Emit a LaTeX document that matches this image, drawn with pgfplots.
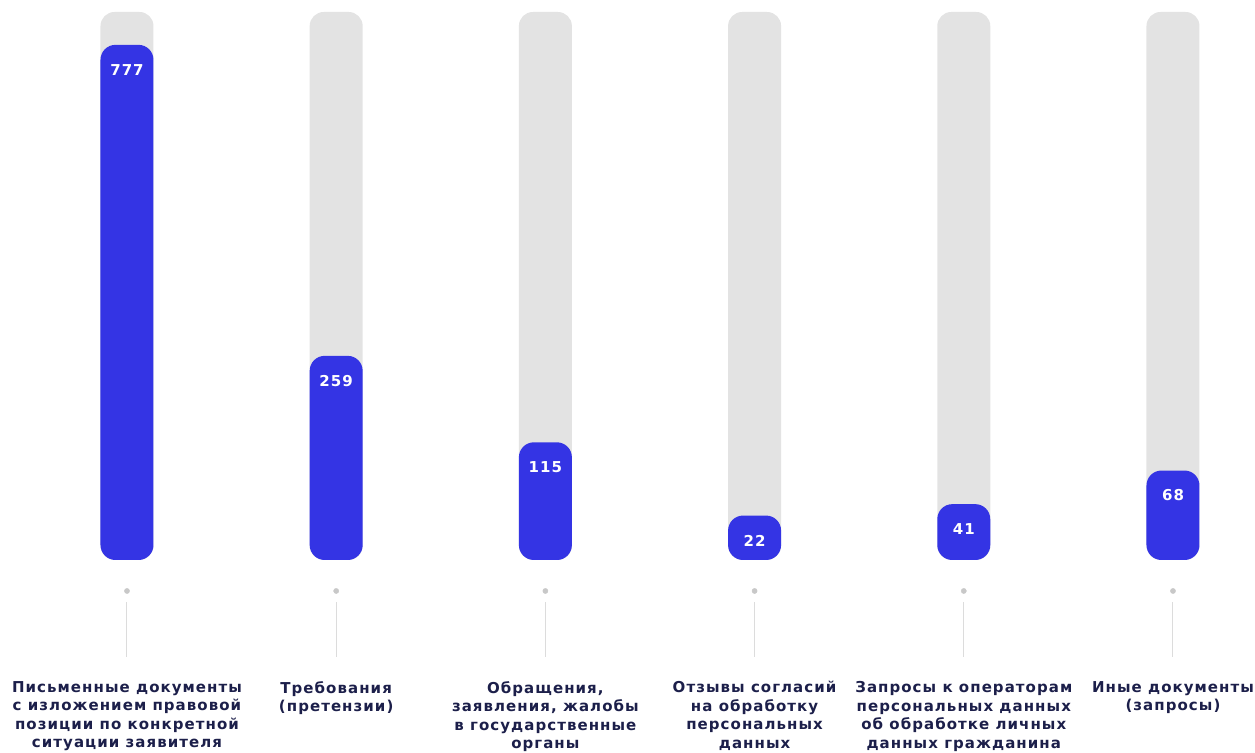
\documentclass[border=0pt]{standalone}
\usepackage{fontspec}
\setmainfont{DejaVu Sans}
\newfontfamily\lblfont{DejaVu Sans}[LetterSpace=7]
\usepackage{pgfplots}
\pgfplotsset{compat=1.18}
\definecolor{barblue}{HTML}{3434E4}
\definecolor{track}{HTML}{E3E3E3}
\definecolor{navy}{HTML}{1C1F4A}
\definecolor{stem}{HTML}{DCDCDC}
\definecolor{dotc}{HTML}{C8C8C8}

\begin{document}
\begin{tikzpicture}
\useasboundingbox (0,0) rectangle (1255pt,752pt);
\begin{axis}[
  at={(0,0)}, anchor=south west,
  width=1255pt, height=752pt,
  scale only axis,
  hide axis,
  clip=false,
  xmin=-0.607, xmax=5.392,
  ymin=-319.8, ymax=932.7,
  bar width=53pt,
  bar shift=0pt,
  /pgf/number format/assume math mode=true,
]
% grey tracks
\addplot[ybar, fill=track, draw=none, rounded corners=14pt, forget plot]
  coordinates {(0,912.7) (1,912.7) (2,912.7) (3,912.7) (4,912.7) (5,912.7)};
% values
\addplot[ybar, fill=barblue, draw=none, rounded corners=15pt,
  y filter/.expression={y<50 ? y+52 : y+81},
  point meta=rawy,
  nodes near coords,
  nodes near coords style={text=white, font=\lblfont\bfseries\fontsize{15}{15}\selectfont,
    anchor=center, yshift=-25pt, rounded corners=0pt}]
  coordinates {(0,777) (1,259) (2,115) (3,22) (4,41) (5,68)};
% dots and stems
\addplot[only marks, mark=*, mark size=2.6pt, color=dotc]
  coordinates {(0,-51.6) (1,-51.6) (2,-51.6) (3,-51.6) (4,-51.6) (5,-51.6)};
\addplot[stem, line width=1pt, unbounded coords=jump]
  coordinates {(0,-70) (0,-161.6) (0,nan)
               (1,-70) (1,-161.6) (1,nan)
               (2,-70) (2,-161.6) (2,nan)
               (3,-70) (3,-161.6) (3,nan)
               (4,-70) (4,-161.6) (4,nan)
               (5,-70) (5,-161.6)};

\tikzset{lbl/.style={anchor=north, align=center, inner sep=0pt, text=navy,
  font=\lblfont\bfseries\fontsize{15}{18.5}\selectfont}}
\node[lbl] at (axis cs:0,-202) {Письменные документы\\с изложением правовой\\позиции по конкретной\\ситуации заявителя};
\node[lbl] at (axis cs:1,-202) {Требования\\(претензии)};
\node[lbl] at (axis cs:2,-202) {Обращения,\\заявления, жалобы\\в государственные\\органы};
\node[lbl] at (axis cs:3,-202) {Отзывы согласий\\на обработку\\персональных\\данных};
\node[lbl] at (axis cs:4,-202) {Запросы к операторам\\персональных данных\\об обработке личных\\данных гражданина};
\node[lbl] at (axis cs:5,-202) {Иные документы\\(запросы)};
\end{axis}
\end{tikzpicture}
\end{document}
